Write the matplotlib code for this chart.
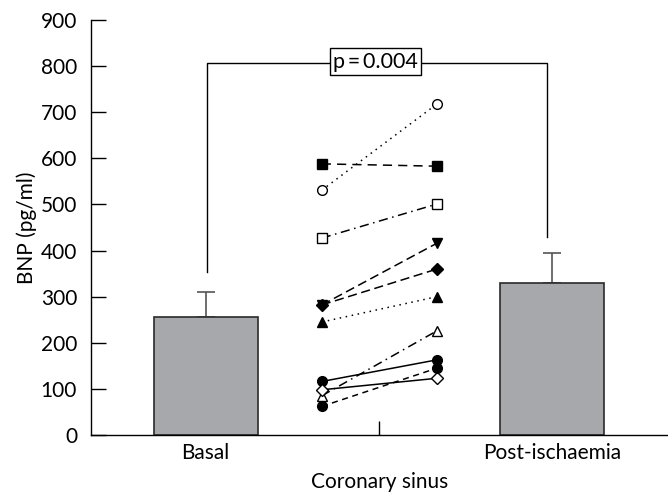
import matplotlib
matplotlib.use("Agg")
import matplotlib.pyplot as plt

plt.rcParams['font.family'] = ['Lato', 'DejaVu Sans']

# group means (pg/ml) with upper SD
groups = ["Basal", "Post-ischaemia"]
means = [255, 330]
sd = [56, 64]

# individual patients: basal -> post-ischaemia
basal_vals = [531, 588, 427, 282, 282, 245, 85, 116, 98, 62]
post_vals = [718, 583, 501, 416, 360, 300, 226, 163, 123, 145]
markers = ['o', 's', 's', 'v', 'D', '^', '^', 'o', 'D', 'o']
filled = [False, True, False, True, True, True, False, True, False, True]
styles = [(0, (1, 3)), (0, (6, 4)), (0, (6, 3, 1, 3)), (0, (6, 3)), (0, (6, 3)), (0, (1, 3)),
          (0, (6, 3, 1, 3)), '-', '-', (0, (4, 3))]

p_text = "p\u2009=\u20090.004"
bracket_y = 807
bracket_left = 353
bracket_right = 429

fig = plt.figure(figsize=(6.68, 4.92), dpi=100)
ax = fig.add_axes([0.1362, 0.1159, 0.8638, 0.8434])

bar_x = [1, 3]
ax.bar(bar_x, means, width=0.6, color='#a7a8ab', edgecolor='#2a2a2a', linewidth=1.2, zorder=2)
ax.errorbar(bar_x, means, yerr=[[0, 0], sd], fmt='none', ecolor='#555555',
            elinewidth=1.2, capsize=6.5, capthick=1.2, zorder=1)

for b, p, m, f, ls in zip(basal_vals, post_vals, markers, filled, styles):
    ms = 6 if m == 'D' else 7
    ax.plot([1.67, 2.335], [b, p], color='black', linestyle=ls, linewidth=1.1,
            marker=m, markersize=ms, markerfacecolor='black' if f else 'white',
            markeredgecolor='black', markeredgewidth=1.0, zorder=3)

# significance bracket
ax.plot([1.005, 1.005, 2.97, 2.97], [bracket_left, bracket_y, bracket_y, bracket_right],
        color='black', linewidth=1.0, zorder=2)
ax.text(1.98, bracket_y + 3, p_text, ha='center', va='center', fontsize=15.5,
        bbox=dict(boxstyle='square,pad=0.15', facecolor='white', edgecolor='black', linewidth=1.0),
        zorder=4)

ax.set_xlim(0.338, 3.668)
ax.set_ylim(0, 900)
ax.set_yticks(range(0, 901, 100))
ax.set_xticks([1, 2, 3])
ax.set_xticklabels([groups[0], '', groups[1]])
ax.set_axisbelow(True)
ax.tick_params(axis='y', direction='in', length=11, width=1, labelsize=15, pad=10)
ax.tick_params(axis='x', direction='in', length=10, width=1, labelsize=15, pad=6)
for s in ['top', 'right']:
    ax.spines[s].set_visible(False)
ax.spines['left'].set_linewidth(1)
ax.spines['bottom'].set_linewidth(1)
ax.set_xlabel("Coronary sinus", fontsize=15, labelpad=6)
ax.set_ylabel("BNP (pg/ml)", fontsize=15, labelpad=3)

fig.savefig("out.png", dpi=100)
